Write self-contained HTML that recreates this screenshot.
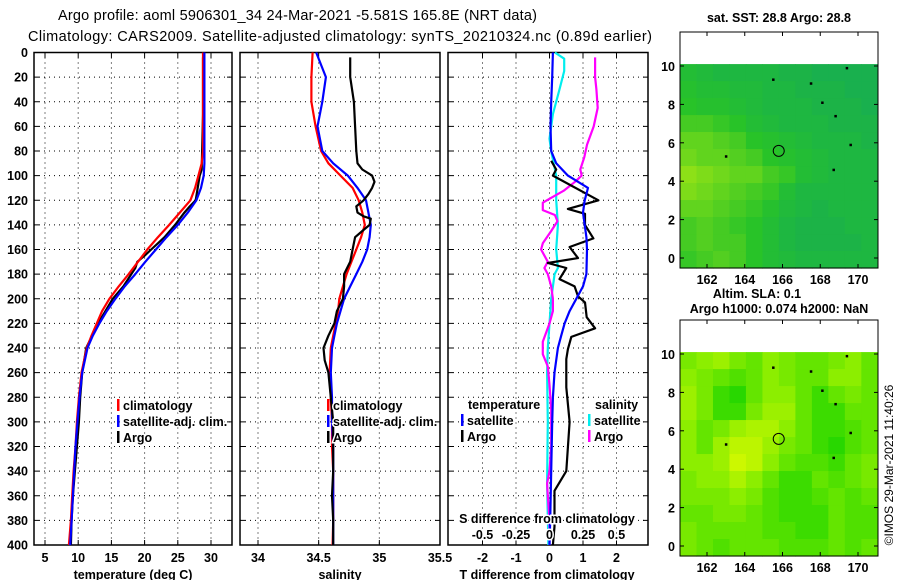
<!DOCTYPE html>
<html><head><meta charset="utf-8">
<style>
body{margin:0;background:#fff;}
svg{display:block;font-family:"Liberation Sans",Arial,sans-serif;}
.b{font-weight:bold;font-size:12.5px;}
</style></head>
<body>
<svg id="c" width="900" height="580" viewBox="0 0 900 580">
<text x="58" y="20" font-size="14.5" textLength="479">Argo profile: aoml 5906301_34 24-Mar-2021 -5.581S 165.8E (NRT data)</text>
<text x="28" y="41" font-size="14.5" textLength="624">Climatology: CARS2009. Satellite-adjusted climatology: synTS_20210324.nc (0.89d earlier)</text>
<text class="b" x="779" y="22" text-anchor="middle">sat. SST: 28.8 Argo: 28.8</text>
<text class="b" x="757" y="298" text-anchor="middle">Altim. SLA: 0.1</text>
<text class="b" x="779" y="313" text-anchor="middle">Argo h1000: 0.074 h2000: NaN</text>
<text x="893" y="465" font-size="12" text-anchor="middle" transform="rotate(-90 893 465)">©IMOS 29-Mar-2021 11:40:26</text>
</svg>
<script>
// ---------- data ----------
const climDepth=[0,20,40,60,80,90,100,110,120,130,140,150,160,170,180,190,200,210,220,230,240,260,280,300,320,340,360,380,400];
const tempClim=[28.8,28.8,28.8,28.8,28.8,28.6,28.1,27.6,26.9,25.3,23.7,22.0,20.4,19.0,17.6,16.1,14.7,13.6,12.8,12.0,11.3,10.5,10.1,9.8,9.6,9.3,9.1,8.9,8.6];
const tempSat=[29.0,29.0,29.0,29.0,29.0,29.0,28.9,28.5,27.8,26.5,25.0,23.3,21.7,20.1,18.6,17.0,15.6,14.3,13.2,12.2,11.4,10.6,10.2,9.9,9.6,9.4,9.2,9.0,8.8];
const argoDepthT=[4,50,95,100,110,120,125,130,140,150,160,165,170,175,180,190,200,220,240,260,280,300,320,340,360,380,400];
const tempArgo=[28.8,28.8,28.6,28.3,28.0,27.7,26.8,26.0,24.6,23.0,21.0,20.0,18.9,18.6,18.0,16.8,15.2,13.0,11.2,10.6,10.3,10.1,9.8,9.5,9.2,9.0,8.9];
const salClim=[34.45,34.44,34.44,34.475,34.52,34.58,34.68,34.78,34.83,34.86,34.88,34.85,34.81,34.77,34.73,34.70,34.67,34.66,34.64,34.62,34.60,34.59,34.60,34.61,34.61,34.62,34.62,34.62,34.615];
const salSat=[34.48,34.56,34.53,34.49,34.53,34.62,34.74,34.82,34.89,34.91,34.93,34.92,34.90,34.86,34.81,34.76,34.71,34.68,34.65,34.63,34.61,34.60,34.61,34.61,34.62,34.62,34.62,34.62,34.62];
const argoDepthS=[4,20,40,60,80,90,95,100,105,110,115,120,125,130,133,135,140,145,150,160,170,180,190,200,210,220,230,240,250,260,280,300,320,340,360,380,400];
const salArgo=[34.76,34.76,34.79,34.80,34.81,34.82,34.86,34.94,34.96,34.94,34.91,34.87,34.81,34.82,34.87,34.93,34.92,34.86,34.80,34.78,34.76,34.71,34.71,34.70,34.65,34.63,34.58,34.54,34.55,34.58,34.60,34.62,34.62,34.62,34.61,34.62,34.62];
const dDepthSat=[0,20,40,60,80,90,100,110,120,130,140,150,160,180,190,200,210,220,230,240,260,280,300,340,380,400];
const tDiffSat=[0.1,0.08,0.05,0.03,0.05,0.2,0.55,1.15,1.05,1.0,1.05,1.1,1.12,1.1,1.0,0.8,0.6,0.45,0.35,0.25,0.15,0.1,0.08,0.05,0.02,0.0];
const dDepthArgoT=[88,95,100,120,127,131,140,151,158,167,171,175,184,190,198,203,215,224,231,241,249,272,300,340,356,385,400];
const tDiffArgo=[0.05,0.2,0.1,1.46,0.55,1.06,1.06,1.31,0.6,0.85,-0.05,0.5,0.3,0.75,0.85,1.06,1.11,1.36,0.65,0.55,0.5,0.5,0.6,0.5,0.15,0.15,0.1];
const dDepthSatS=[0,5,15,30,50,70,80,100,120,140,160,175,180,200,220,240,260,300,350,400];
const sDiffSat=[0.04,0.11,0.11,0.075,0.025,0,0.0125,0.05,0.05,0.063,0.05,0.063,0.038,0.013,0,-0.013,-0.018,-0.013,-0.018,-0.008];
const dDepthArgoS=[4,20,30,45,60,75,85,95,100,105,112,118,122,128,132,137,145,155,160,170,175,180,190,200,210,220,235,245,255,270,290,320,340,350,360,380,400];
const sDiffArgo=[0.34,0.34,0.35,0.36,0.33,0.28,0.26,0.23,0.24,0.19,0.11,0.013,-0.05,-0.05,0.04,0.06,0.013,-0.05,-0.063,-0.013,-0.038,-0.013,0.013,0.025,0.025,0,-0.05,-0.05,-0.013,0,0.013,0.013,0,-0.018,-0.013,0,0];
const depthTicks=[0,20,40,60,80,100,120,140,160,180,200,220,240,260,280,300,320,340,360,380,400];
const tTicks=[5,10,15,20,25,30];
const sTicks=[34,34.5,35,35.5];
const dTicks=[-2,-1,0,1,2];
const sdTicks=[-0.5,-0.25,0,0.25,0.5];
const lonTicks=[162,164,166,168,170];
const latTicks=[0,2,4,6,8,10];
const sstGrid=[
[0.3,0.25,0.2,0.2,0.2,0.2,0.15,0.15,0.1,0.1,0.1,0.1],
[0.35,0.3,0.3,0.25,0.25,0.2,0.2,0.15,0.15,0.15,0.1,0.1],
[0.4,0.35,0.35,0.3,0.25,0.2,0.2,0.2,0.15,0.15,0.15,0.1],
[0.5,0.5,0.45,0.4,0.3,0.25,0.2,0.2,0.2,0.15,0.15,0.15],
[0.6,0.6,0.55,0.5,0.4,0.35,0.3,0.25,0.2,0.2,0.2,0.15],
[0.65,0.6,0.6,0.55,0.5,0.4,0.35,0.3,0.25,0.2,0.2,0.2],
[0.75,0.7,0.65,0.6,0.6,0.5,0.45,0.3,0.25,0.2,0.2,0.2],
[0.7,0.65,0.6,0.55,0.5,0.45,0.3,0.2,0.2,0.2,0.2,0.2],
[0.6,0.6,0.55,0.5,0.45,0.35,0.25,0.2,0.15,0.2,0.2,0.2],
[0.5,0.55,0.5,0.45,0.4,0.3,0.2,0.15,0.15,0.15,0.2,0.2],
[0.5,0.55,0.5,0.5,0.4,0.3,0.2,0.15,0.15,0.15,0.15,0.2],
[0.45,0.5,0.55,0.5,0.4,0.3,0.25,0.2,0.2,0.2,0.2,0.2]];
const slaGrid=[
[0.4,0.5,0.6,0.4,0.3,0.5,0.4,0.3,0.3,0.4,0.5,0.3],
[0.5,0.4,0.3,0.2,0.3,0.5,0.4,0.3,0.3,0.5,0.5,0.3],
[0.6,0.4,0.1,0.0,0.3,0.5,0.5,0.3,0.1,0.3,0.4,0.3],
[0.6,0.4,0.1,0.1,0.4,0.6,0.6,0.3,0.1,0.1,0.3,0.3],
[0.5,0.3,0.4,0.6,0.7,0.7,0.5,0.3,0.1,0.1,0.2,0.3],
[0.5,0.3,0.6,0.8,0.8,0.6,0.4,0.3,0.1,0.0,0.2,0.3],
[0.5,0.5,0.6,0.9,0.8,0.5,0.3,0.2,0.2,0.1,0.3,0.4],
[0.4,0.5,0.5,0.7,0.5,0.3,0.1,0.1,0.3,0.2,0.3,0.4],
[0.4,0.4,0.4,0.5,0.4,0.2,0.1,0.1,0.2,0.3,0.2,0.3],
[0.3,0.3,0.4,0.4,0.3,0.2,0.1,0.1,0.1,0.3,0.2,0.2],
[0.4,0.3,0.3,0.3,0.3,0.2,0.2,0.1,0.1,0.3,0.2,0.2],
[0.4,0.3,0.2,0.3,0.3,0.3,0.2,0.2,0.2,0.3,0.2,0.3]];
const floatLon=165.8, floatLat=5.58;

// ---------- helpers ----------
const NS="http://www.w3.org/2000/svg";
const svg=document.getElementById('c');
function mk(tag,attrs,parent){const e=document.createElementNS(NS,tag);for(const k in attrs)e.setAttribute(k,attrs[k]);(parent||svg).appendChild(e);return e;}
function txt(x,y,s,anchor,parent){const t=mk('text',{x:x,y:y,'text-anchor':anchor||'middle','class':'b'},parent);t.textContent=s;return t;}
const TOP=52.5,BOT=545;
const yD=d=>TOP+(d/400)*(BOT-TOP);
function lin(d0,d1,p0,p1){return v=>p0+(v-d0)/(d1-d0)*(p1-p0);}

function panel(name,x0,x1,xs,ticks,fmt,showY){
  const g=mk('g',{});
  
  
  depthTicks.forEach(d=>{
    if(d>0&&d<400){const l=mk('line',{x1:x0,x2:x1,y1:yD(d),y2:yD(d),stroke:'#000','stroke-width':1,'stroke-dasharray':'1 4'},g);
    }
    mk('line',{x1:x0,x2:x0+5,y1:yD(d),y2:yD(d),stroke:'#000'},g);
    mk('line',{x1:x1-5,x2:x1,y1:yD(d),y2:yD(d),stroke:'#000'},g);
    if(showY){const t=txt(28,yD(d)+4.5,String(d),'end',g);}
  });
  ticks.forEach(v=>{const x=xs(v);
    if(x>x0+1&&x<x1-1){const l=mk('line',{x1:x,x2:x,y1:TOP,y2:BOT,stroke:'#000','stroke-dasharray':'1 4'},g);
    }
    mk('line',{x1:x,x2:x,y1:TOP,y2:TOP+5,stroke:'#000'},g);
    mk('line',{x1:x,x2:x,y1:BOT-5,y2:BOT,stroke:'#000'},g);
    const t=txt(x,562,fmt(v),'middle',g);
  });
  const r=mk('rect',{x:x0,y:TOP,width:x1-x0,height:BOT-TOP,fill:'none',stroke:'#000','stroke-width':1.5},g);
  
  return g;
}
function series(name,depths,vals,xs,color,parent,w){
  const pts=depths.map((d,i)=>xs(vals[i]).toFixed(1)+','+yD(d).toFixed(1)).join(' ');
  const p=mk('polyline',{points:pts,fill:'none',stroke:color,'stroke-width':w||2.2,'stroke-linejoin':'round'},parent);
  
  
}
function legendItem(x,y,color,label,parent){
  if(color){const m=mk('rect',{x:x,y:y-11,width:2.5,height:12,fill:color},parent);}
  const t=mk('text',{x:x+(color?6:0),y:y,'class':'b',stroke:'#fff','stroke-width':3,'paint-order':'stroke'},parent);
  t.textContent=label;
}

// ---------- panel 1: temperature ----------
const xT=lin(5,30,45,211);
const g1=panel('temperature-panel',34,232,xT,tTicks,v=>String(v),true);
series('temp-argo-line',argoDepthT,tempArgo,xT,'#000',g1);
series('temp-climatology-line',climDepth,tempClim,xT,'#f00',g1);
series('temp-satellite-line',climDepth,tempSat,xT,'#00f',g1);
legendItem(117,410,'#f00','climatology',g1);
legendItem(117,426,'#00f','satellite-adj. clim.',g1);
legendItem(117,442,'#000','Argo',g1);
let t=txt(133,579,'temperature (deg C)','middle');

// ---------- panel 2: salinity ----------
const xS=lin(34,35.5,258,440);
const g2=panel('salinity-panel',240,440,xS,sTicks,v=>String(v),false);
series('sal-climatology-line',climDepth,salClim,xS,'#f00',g2);
series('sal-satellite-line',climDepth,salSat,xS,'#00f',g2);
series('sal-argo-line',argoDepthS,salArgo,xS,'#000',g2);
legendItem(327,410,'#f00','climatology',g2);
legendItem(327,426,'#00f','satellite-adj. clim.',g2);
legendItem(327,442,'#000','Argo',g2);
t=txt(340,579,'salinity','middle');

// ---------- panel 3: differences ----------
const xDT=lin(0,1,549.5,583);
const xDS=v=>xDT(v*4);
const g3=panel('difference-panel',448,648,xDT,dTicks,v=>String(v),false);
series('sdiff-satellite-line',dDepthSatS,sDiffSat,xDS,'#0ee',g3);
series('sdiff-argo-line',dDepthArgoS,sDiffArgo,xDS,'#f0f',g3);
series('tdiff-argo-line',dDepthArgoT,tDiffArgo,xDT,'#000',g3);
series('tdiff-satellite-line',dDepthSat,tDiffSat,xDT,'#00f',g3);
legendItem(468,409,null,'temperature',g3);
legendItem(461,425,'#00f','satellite',g3);
legendItem(461,441,'#000','Argo',g3);
legendItem(595,409,null,'salinity',g3);
legendItem(588,425,'#0ee','satellite',g3);
legendItem(588,441,'#f0f','Argo',g3);
t=mk('text',{x:547,y:523,'class':'b','text-anchor':'middle',stroke:'#fff','stroke-width':3,'paint-order':'stroke'},g3);t.textContent='S difference from climatology';

sdTicks.forEach(v=>{const s=mk('text',{x:xDS(v),y:539,'class':'b','text-anchor':'middle',stroke:'#fff','stroke-width':3,'paint-order':'stroke'},g3);s.textContent=String(v);
});
t=txt(547,579,'T difference from climatology','middle');

// ---------- maps ----------
function col(stops,v){let i=0;while(i<stops.length-2&&v>stops[i+1][0])i++;const a=stops[i],b=stops[i+1];const f=Math.max(0,Math.min(1,(v-a[0])/(b[0]-a[0])));
return 'rgb('+[1,2,3].map(k=>Math.round(a[k]+(b[k]-a[k])*f)).join(',')+')';}
const sstStops=[[0,20,170,90],[0.4,40,195,40],[0.8,155,228,20]];
const slaStops=[[0,40,215,0],[0.5,140,238,0],[1,220,250,0]];
function map(name,y0,y1,grid,stops){
  const g=mk('g',{});
  const x0=680,x1=878;
  const xl=lin(162,170,707,858);
  const yl=lin(0,10,y0+226,y0+34);
  const lonA=160.57,lonB=171.05,latTop=10.1;
  const rows=grid.length,cols=grid[0].length;
  const latB=-( (y1-yl(0))/((yl(0)-yl(10))/10) );
  for(let r=0;r<rows;r++)for(let c=0;c<cols;c++){
    const la1=latTop-(latTop-latB)*r/rows, la2=latTop-(latTop-latB)*(r+1)/rows;
    const lo1=lonA+(lonB-lonA)*c/cols, lo2=lonA+(lonB-lonA)*(c+1)/cols;
    const cell=mk('rect',{x:xl(lo1),y:yl(la1),width:xl(lo2)-xl(lo1)+0.6,height:yl(la2)-yl(la1)+0.6,fill:col(stops,grid[r][c])},g);
    
  }
  const circ=mk('circle',{cx:xl(floatLon),cy:yl(floatLat),r:5.5,fill:'none',stroke:'#000','stroke-width':1},g);
  
  [[163,5.3],[167.5,9.1],[168.8,7.4],[169.6,5.9],[168.7,4.6],[168.1,8.1],[165.5,9.3],[169.4,9.9]].forEach(p=>{
    const i=mk('rect',{x:xl(p[0])-1,y:yl(p[1])-1,width:2.5,height:2.5,fill:'#000'},g);});
  const fr=mk('rect',{x:x0,y:y0,width:x1-x0,height:y1-y0,fill:'none',stroke:'#000','stroke-width':1},g);
  
  latTicks.forEach(v=>{const y=yl(v);mk('line',{x1:x0,x2:x0+4,y1:y,y2:y,stroke:'#000'},g);mk('line',{x1:x1-4,x2:x1,y1:y,y2:y,stroke:'#000'},g);
    const l=txt(675,y+5,String(v),'end',g);});
  lonTicks.forEach(v=>{const x=xl(v);mk('line',{x1:x,x2:x,y1:y1-4,y2:y1,stroke:'#000'},g);mk('line',{x1:x,x2:x,y1:y0,y2:y0+4,stroke:'#000'},g);
    const l=txt(x,y1+16,String(v),'middle',g);});
}
map('sst-map',32,268,sstGrid,sstStops);
map('sla-map',320,556,slaGrid,slaStops);
</script>
</body></html>
